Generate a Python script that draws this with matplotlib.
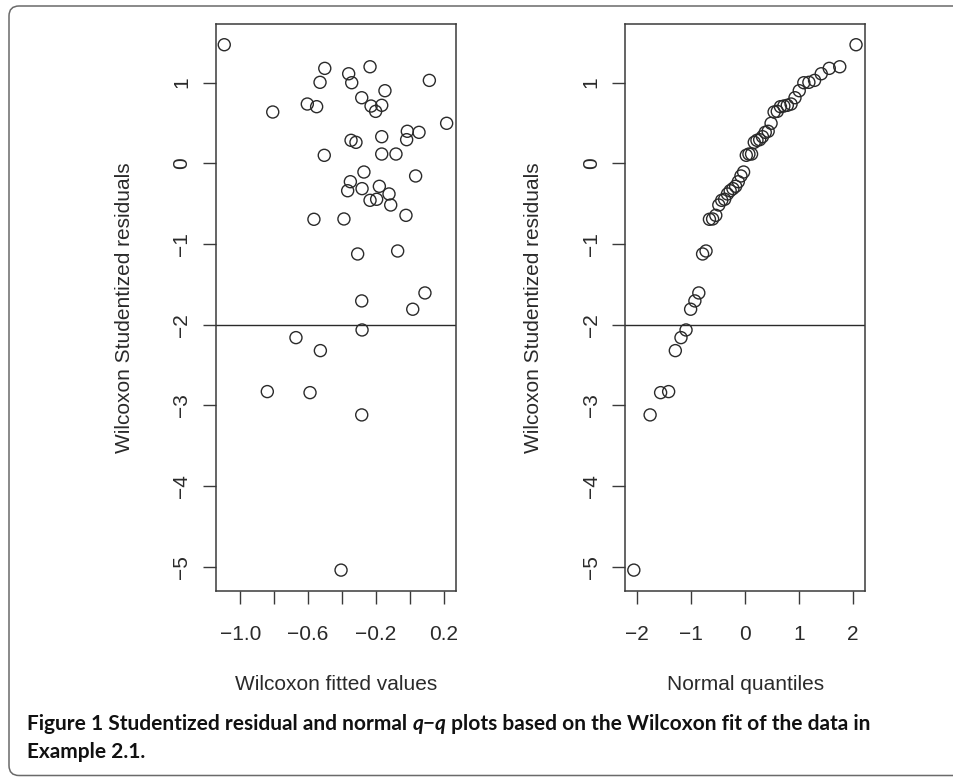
import matplotlib
matplotlib.use("Agg")
import matplotlib.pyplot as plt
from matplotlib.patches import FancyBboxPatch
from matplotlib.transforms import IdentityTransform

# values
fitted = [-1.094, -0.501, -0.234, -0.360, -0.529, -0.342, 0.116, -0.146, -0.283, -0.604,
          -0.549, -0.228, -0.165, -0.201, -0.808, 0.218, -0.014, 0.055, -0.018, -0.165,
          -0.346, -0.317, -0.504, -0.165, -0.081, -0.270, 0.035, -0.350, -0.366, -0.281,
          -0.179, -0.122, -0.234, -0.195, -0.112, -0.022, -0.565, -0.388, -0.307, -0.071,
          0.090, -0.283, 0.018, -0.281, -0.671, -0.527, -0.840, -0.588, -0.283, -0.405]
resid = [1.470, 1.177, 1.197, 1.110, 1.004, 0.999, 1.028, 0.900, 0.813, 0.735,
         0.702, 0.710, 0.719, 0.644, 0.636, 0.496, 0.397, 0.384, 0.293, 0.330,
         0.285, 0.260, 0.099, 0.115, 0.115, -0.108, -0.157, -0.228, -0.340, -0.314,
         -0.285, -0.380, -0.459, -0.446, -0.517, -0.645, -0.694, -0.690, -1.124, -1.087,
         -1.607, -1.706, -1.809, -2.066, -2.161, -2.322, -2.830, -2.843, -3.119, -5.043]

qq_x = [-2.062, -1.760, -1.565, -1.416, -1.292, -1.187, -1.093, -1.008, -0.929, -0.856,
        -0.786, -0.722, -0.659, -0.600, -0.541, -0.485, -0.431, -0.377, -0.325, -0.274,
        -0.223, -0.173, -0.123, -0.074, -0.025, 0.025, 0.074, 0.123, 0.173, 0.223,
        0.274, 0.325, 0.377, 0.431, 0.485, 0.541, 0.600, 0.659, 0.722, 0.786,
        0.856, 0.929, 1.008, 1.093, 1.187, 1.292, 1.416, 1.565, 1.760, 2.062]
qq_y = [-5.043, -3.119, -2.843, -2.830, -2.322, -2.161, -2.066, -1.809, -1.706, -1.607,
        -1.124, -1.087, -0.694, -0.690, -0.645, -0.517, -0.459, -0.446, -0.380, -0.340,
        -0.314, -0.285, -0.228, -0.157, -0.108, 0.099, 0.115, 0.115, 0.260, 0.285,
        0.293, 0.330, 0.384, 0.397, 0.496, 0.636, 0.644, 0.702, 0.710, 0.719,
        0.735, 0.813, 0.900, 0.999, 1.004, 1.028, 1.110, 1.177, 1.197, 1.470]

cutoff = -2

left_xticks = [-1.0, -0.8, -0.6, -0.4, -0.2, 0.0, 0.2]
left_xlabels = ["\u22121.0", "", "\u22120.6", "", "\u22120.2", "", "0.2"]
right_xticks = [-2, -1, 0, 1, 2]
right_xlabels = ["\u22122", "\u22121", "0", "1", "2"]
yticks = [1, 0, -1, -2, -3, -4, -5]
ylabels = ["1", "0", "\u22121", "\u22122", "\u22123", "\u22124", "\u22125"]

plt.rcParams['font.family'] = ['Liberation Sans', 'DejaVu Sans']

W, H = 954, 777
fig = plt.figure(figsize=(W / 100, H / 100), dpi=100)

ink = "#2a2a2a"
ax1 = fig.add_axes([215.7 / W, 1 - 591 / H, 240 / W, 567 / H])
ax2 = fig.add_axes([625 / W, 1 - 591 / H, 240.3 / W, 567 / H])

panels = [
    (ax1, fitted, resid, (-1.1445, 0.2714), left_xticks, left_xlabels, "Wilcoxon fitted values"),
    (ax2, qq_x, qq_y, (-2.226, 2.234), right_xticks, right_xlabels, "Normal quantiles"),
]
for ax, xs, ys, xlim, xt, xl, xlab in panels:
    ax.scatter(xs, ys, s=75, facecolors="none", edgecolors=ink, linewidths=1.0, zorder=3)
    ax.axhline(cutoff, color=ink, lw=1.0, zorder=2)
    ax.set_xlim(*xlim)
    ax.set_ylim(-5.302, 1.727)
    ax.set_xticks(xt)
    ax.set_xticklabels(xl)
    ax.set_yticks(yticks)
    ax.set_yticklabels(ylabels, rotation=90, va="center")
    for sp in ax.spines.values():
        sp.set_color("#3a3a3a")
        sp.set_linewidth(1.1)
    ax.tick_params(direction="out", length=9.5, width=1.0, color="#3a3a3a",
                   labelsize=15, labelcolor=ink)
    ax.tick_params(axis="x", pad=15)
    ax.tick_params(axis="y", pad=8)
    ax.set_xlabel(xlab, fontsize=15, color=ink, labelpad=22)
    ax.set_ylabel("Wilcoxon Studentized residuals", fontsize=15, color=ink, labelpad=28)

# outer frame of the figure panel (runs off the right edge)
frame = FancyBboxPatch((0.09, 0.015), 10.5, 7.695,
                       boxstyle="round,pad=0,rounding_size=0.1",
                       transform=fig.dpi_scale_trans, fill=False,
                       edgecolor="#6a6a6a", lw=1.1)
frame.set_clip_on(False)
fig.add_artist(frame)

# caption, written in pieces so q-q can be italic
renderer = fig.canvas.get_renderer()
cap_font = ['Lato', 'DejaVu Sans']
cap_size = 15.0
pieces = [("Figure 1 Studentized residual and normal ", "normal"),
          ("q\u2212q", "italic"),
          (" plots based on the Wilcoxon fit of the data in", "normal")]
x = 27
for txt, style in pieces:
    t = fig.text(x, 47, txt, transform=IdentityTransform(), family=cap_font,
                 fontsize=cap_size, fontweight="bold", style=style, va="baseline", color="#111111")
    x = t.get_window_extent(renderer).x1
fig.text(27, 19, "Example 2.1.", transform=IdentityTransform(), family=cap_font,
         fontsize=cap_size, fontweight="bold", va="baseline", color="#111111")

fig.savefig("out.png", dpi=100)
